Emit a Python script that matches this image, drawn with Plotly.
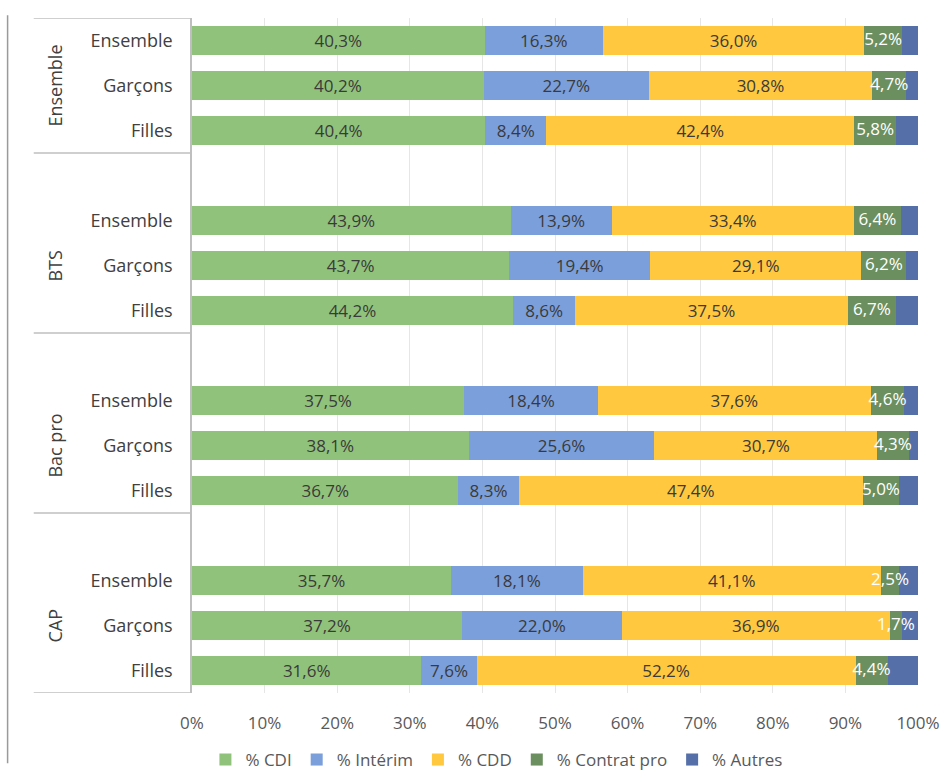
import plotly.graph_objects as go

groups = ["Ensemble", "BTS", "Bac pro", "CAP"]
subgroups = ["Ensemble", "Garçons", "Filles"]
series = ["% CDI", "% Intérim", "% CDD", "% Contrat pro", "% Autres"]

# values per group, per subgroup (Ensemble, Garçons, Filles)
cdi = [[40.3, 40.2, 40.4], [43.9, 43.7, 44.2], [37.5, 38.1, 36.7], [35.7, 37.2, 31.6]]
interim = [[16.3, 22.7, 8.4], [13.9, 19.4, 8.6], [18.4, 25.6, 8.3], [18.1, 22.0, 7.6]]
cdd = [[36.0, 30.8, 42.4], [33.4, 29.1, 37.5], [37.6, 30.7, 47.4], [41.1, 36.9, 52.2]]
contrat = [[5.2, 4.7, 5.8], [6.4, 6.2, 6.7], [4.6, 4.3, 5.0], [2.5, 1.7, 4.4]]
autres = [[2.2, 1.6, 3.0], [2.4, 1.6, 3.0], [1.9, 1.3, 2.6], [2.6, 2.2, 4.2]]
x_ticks = list(range(0, 101, 10))
x_ticktext = [f"{t}%" for t in x_ticks]

colors = ["#91C27B", "#7B9FDB", "#FFC83F", "#6C8F5F", "#5570A8"]
text_colors = ["#3A3A3A", "#3A3A3A", "#3A3A3A", None, None]
all_vals = [cdi, interim, cdd, contrat, autres]

slots = len(subgroups) + 1
positions = []
ticktext = []
for g in range(len(groups)):
    for s in range(len(subgroups)):
        positions.append(g * slots + s)
        ticktext.append(subgroups[s])

FONT = "Open Sans"
LBL = 17
fig = go.Figure()
flat = [[v for grp in vals for v in grp] for vals in all_vals]
for i, name in enumerate(series):
    xs = flat[i]
    if text_colors[i]:
        kw = dict(texttemplate="%{x:.1f}%", textposition="inside",
                  insidetextanchor="middle", textangle=0,
                  textfont=dict(color=text_colors[i], size=LBL, family=FONT),
                  constraintext="none")
    else:
        kw = dict(textposition="none")
    fig.add_trace(go.Bar(y=positions, x=xs, name=name, orientation="h",
                         marker=dict(color=colors[i], line=dict(width=0)),
                         hoverinfo="skip", **kw))

# white labels for "Contrat pro", drawn above all bars (they overflow in the reference)
base = [flat[0][k] + flat[1][k] + flat[2][k] for k in range(len(positions))]
mid = [base[k] + flat[3][k] / 2 for k in range(len(positions))]
fig.add_trace(go.Scatter(x=mid, y=positions, mode="text",
                         text=[f"{v:.1f}%".replace(".", ",") for v in flat[3]],
                         textposition="middle center",
                         textfont=dict(color="white", size=LBL, family=FONT),
                         showlegend=False, hoverinfo="skip", cliponaxis=False))

n_slots = len(groups) * slots - 1
fig.update_layout(
    barmode="stack", bargap=0.36,
    separators=", ",
    width=944, height=778,
    margin=dict(l=192, r=26, t=18, b=85, autoexpand=False),
    paper_bgcolor="white", plot_bgcolor="white",
    font=dict(family=FONT, color="#595959", size=16),
    uniformtext=dict(minsize=LBL, mode="show"),
    showlegend=True,
    legend=dict(orientation="h", x=0.42, xanchor="center",
                yref="container", y=0.0, yanchor="bottom",
                font=dict(size=17, color="#595959", family=FONT),
                traceorder="normal"),
)
fig.update_xaxes(range=[0, 100], tickmode="array", tickvals=x_ticks, ticktext=x_ticktext,
                 showgrid=True, gridcolor="#E6E6E6", gridwidth=1, zeroline=False,
                 showline=False, ticks="", ticklabelstandoff=18,
                 tickfont=dict(size=17, color="#595959"))
fig.update_yaxes(range=[n_slots - 0.5, -0.5], tickvals=positions, ticktext=ticktext,
                 showgrid=False, zeroline=False, showline=True, linecolor="#BFBFBF",
                 linewidth=1.5, ticks="", ticklabelstandoff=14,
                 tickfont=dict(size=18, color="#404040"))

# group separators and labels
bounds = [-0.5] + [g * slots + len(subgroups) - 0.5 for g in range(len(groups))]
for b in bounds:
    fig.add_shape(type="line", xref="paper", yref="y", x0=-0.218, x1=0, y0=b, y1=b,
                  line=dict(color="#BFBFBF", width=1.5))
for g, name in enumerate(groups):
    fig.add_annotation(xref="paper", yref="y", x=-0.19, y=g * slots + 1,
                       xanchor="center", yanchor="middle",
                       text=name, textangle=-90, showarrow=False,
                       font=dict(size=18, color="#404040", family=FONT))
# outer frame line on the left
fig.add_shape(type="line", xref="paper", yref="paper", x0=-0.254, x1=-0.254,
              y0=1.004, y1=-0.104, line=dict(color="#9A9A9A", width=1.5))

fig.write_html("out.html")
